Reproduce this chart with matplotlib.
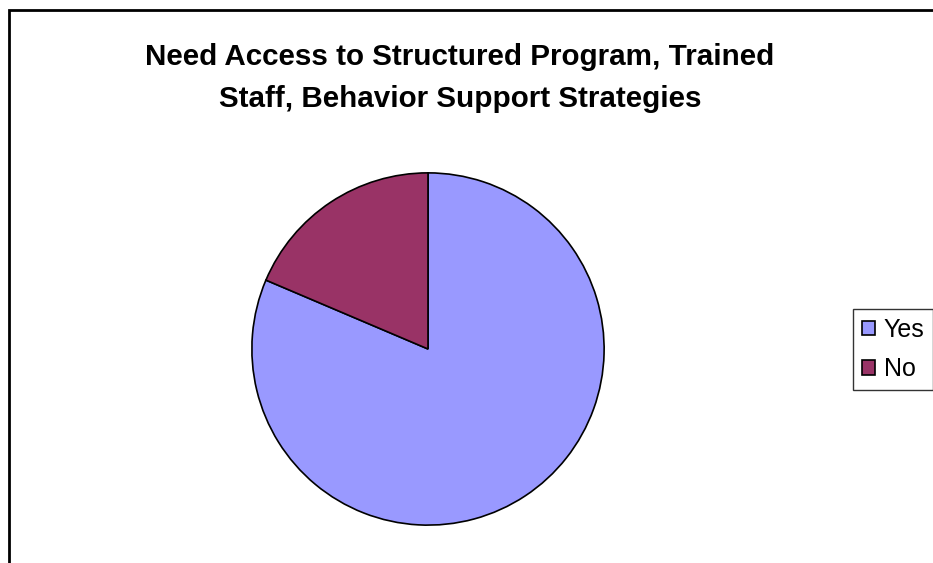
import matplotlib.pyplot as plt
from matplotlib.lines import Line2D
from matplotlib.patches import Patch

plt.rcParams['font.family'] = ['Liberation Sans', 'DejaVu Sans']

# data
labels = ["Yes", "No"]
counts = [35, 8]
colors = ["#9999FF", "#993366"]
title = "Need Access to Structured Program, Trained\nStaff, Behavior Support Strategies"

W, H = 933, 563
fig = plt.figure(figsize=(W / 100, H / 100), dpi=100)

# chart area border (top and left visible, the rest is cropped)
bx, by = 9 / W, 1 - 10 / H
fig.add_artist(Line2D([bx, bx, 1.0], [0.0, by, by], transform=fig.transFigure,
                      color="black", lw=2, solid_joinstyle="miter"))

fig.text(460 / W, 1 - 78 / H, title, ha="center", va="center",
         fontsize=21.3, fontweight="bold", linespacing=1.63)

# pie
ax = fig.add_axes([251 / W, 1 - 526 / H, 354 / W, 354 / H])
ax.pie(counts, colors=colors, startangle=90, counterclock=False,
       wedgeprops=dict(edgecolor="black", linewidth=1.2))
ax.set_xlim(-1.005, 1.005)
ax.set_ylim(-1.005, 1.005)
ax.set_aspect("equal")

handles = [Patch(facecolor=c, edgecolor="black", linewidth=1.2) for c in colors]
leg = fig.legend(handles, labels, loc="upper left",
                 bbox_to_anchor=(853 / W, 1 - 309 / H),
                 fontsize=18, frameon=True, fancybox=False,
                 handlelength=0.52, handleheight=0.52, handletextpad=0.36,
                 borderpad=0.35, labelspacing=0.62, borderaxespad=0)
leg.get_frame().set_edgecolor("black")
leg.get_frame().set_linewidth(1)

fig.savefig("out.png", dpi=100)
